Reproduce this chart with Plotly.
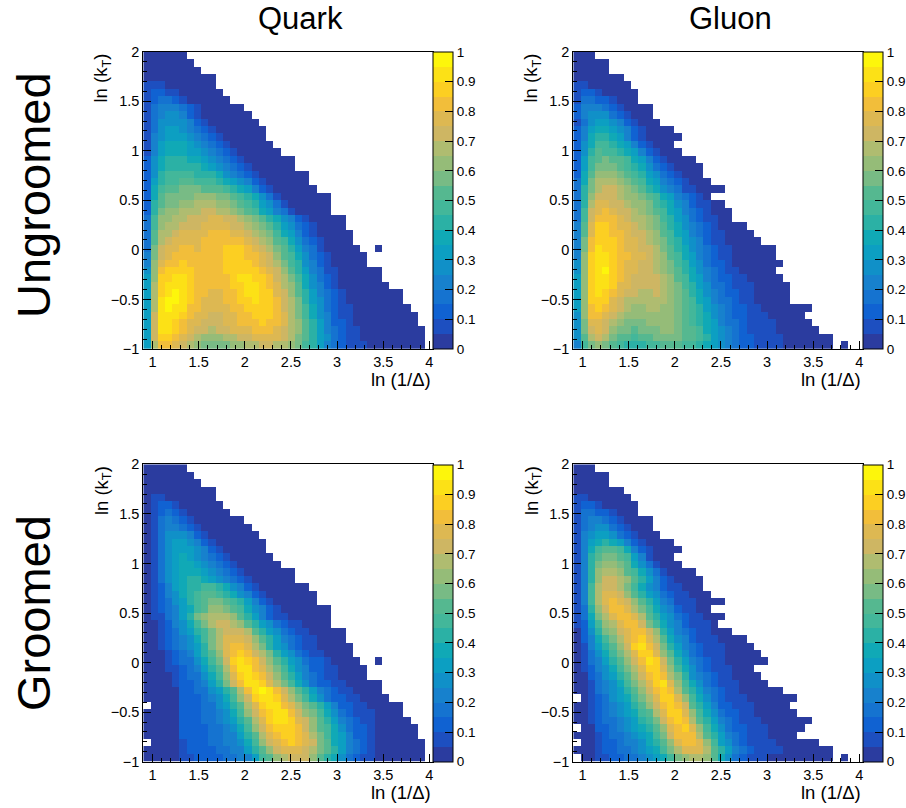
import numpy as np
import plotly.graph_objects as go

# Cell levels: one character per cell, 0-9 then a-j = 20 colour bands, '.' = empty.
quark_ungroomed = [
"000000","0000000","00000000","0000000000","1110000000","12211000000","123321000000","13444321000000",
"134554210000000","1355554210000000","13566543210000000","14566654321000000","146777654321000000",
"1467776654321000000","257888776543210000000","257888887654321000000","25899998887543210000000",
"26899aa9998765421000000","279aabbbaaa9876421000000","27abbbbcccbba9875310000000","28abbccdddccba986531000000",
"28bccdddeeddcba97643100000","39ccddeeeffeedcba87542100000","39cddeeeffffeedcba8653210000",
"3addeffffgggffedcb97642100000","3adeffffggggggfedca9753210000","3beffggfggghhhgfedba8643100000..0",
"4befggggggghhhggfeca97532100000","4cfgghggggghhhhgfedb98542100000","5cghhhhgggghhhhhgfeca864311000000",
"6chhiihggggghiihhgedb975321000000","6dhiiihggggghhiihgfdca754210000000","6dhijihggffgghiihhfeca86432100000000",
"6dijjihgfffgghhihhgedb86532100000000","6dijiiggffffgghhhhgedb975321100000000",
"6eiiihgffeeffgghhhgfdb9754211000000000","6eiihgffeeeffggghggfdca864221000000000",
"6eiihgfeedeefffgggfedca8643211000000000","6ehhgfedcccddeeffffedba8653211000000000",
"6dggfedcbbbbccddeeddcb98643211100000000",
]
gluon_ungroomed = [
"000","00000","00000","0000000","11000000","122100000","133221000","24443210000","24555321000",
"135665421000","24677654210000","247887642100000","25799876421000","258a99876421000","269abaa9764210000",
"269bbba98753210000","27acccba9865321000","37bdddcba9764321000","38bdeedcba87543110000","38ceeedccba97643210",
"38dffeedccb9875421100","39efgfeedcba9764321000","39egggfeddcb9865321100","4afhhgffedcba87543210000",
"4afhhggfeedca976432110000","4bghhhgffedcb9865421100000","4bgihhgffeedba87543211000000",
"4chiihggffedca97643211000000","5chiihgffeedcb986532210000000","5chijhgffeedcba8754321100000",
"6chiihgfeeeedca97643221100000","6chiihffeeeedcb986533211100000","6chihgfeeddedcba87543221100000",
"6chhhfeddddddcba97643321100000","6cghgfedccddccba98654322110000000","5cggfedcccccccba9875432211100000",
"5bffedcbbbccccba98764332111100000","5befecbbabbbccbaa97654321111000000",
"5adedbaa9aabbbbaa9865432211110000000","49bcba988899aaa998765432211110000000.0",
]
quark_groomed = [
"000000","0000000","00000000","0000000000","0110000000","01221000000","012321000000","01343210000000",
"013443210000000","0135554210000000","01356654210000000","01356665421000000","013567654321000000",
"0135677654321000000","013567776543210000000","013567887654321000000","01246788998754210000000",
"01245789aa98754210000000","01235689abba986421000000","01234679accba9754210000000",
"0113468bcdddca864211000000","00124579bdeedca86532110000","001235689bdeeeda865321100000",
"001234579bdfffeca86432110000","001234568bdfggfdb865321100000","000123468acfghgedb86532110000",
"0001233579behihgeca86532210000..0","0001123468adgiigfdb975422110000","00001233579cfhihgeca86432110000",
"00001223468begiihfdb9753221100000","000002233568adgijigeca86432110000","0000022234579cehiihfdb975322110000",
".000022233568adfhiigfdba864221100000",
"00000222334579ceghiigecb975321110000",
"00000222334568adfhiihfeca86432110000 0".replace(" ",""),
"00000222233457 9ceghhhgeca97532 21000000".replace(" ",""),
"00000222233446 8adfghhgfdb97642 21000000".replace(" ",""),
".0000122233445 79cefghgfeba7643 210000000".replace(" ",""),
"00000122223344 68acefffedba8643 210000000".replace(" ",""),
"00000112222334 469acdeeeca87532 110000000".replace(" ",""),
]
gluon_groomed = [
"000","00000","00000","0000000","11000000","122100000","133221000","13443210000","13455321000",
"145665321000","14678764210000","1479aa974210000","148abba9641000","148bccba7531000",
"148cddca975310000","148ceedca864210000","149deedb9754211000","149dffeca8653211000","149dfgfeca86431110000",
"138ceggfdb975421100","137bdfggfda8653211000","1269cdfggeb975421110","0258bcefggec8643211000",
"02479bdfghfda75421110000","01468acehigeb864321110000","013579bdfhhfca753211100000",
"013468acegiheb8643211000000","0124579bdfhhfc97532111000","0023568aceghgdb85432110000",
"00134579bdfhifc975321110000","00134568aceghgda8643211000000",".01235679bdfhhfc975321110000000",
"001234568aceghgea8642211100000","0012345679adfhhfc97532211000000","00123345689beghgda864321110000000",
".0022345678acfghfc97532211100000","000123345679begggda864321110000",".00122344578acfggfc965321111000000",
"0001223345679bdfffda8643211110000000",".0011223345679bcddca7532111000000000.0",
]

x_tick_labels = ["1", "1.5", "2", "2.5", "3", "3.5", "4"]
x_tick_values = [1, 1.5, 2, 2.5, 3, 3.5, 4]
y_tick_labels = ["−1", "−0.5", "0", "0.5", "1", "1.5", "2"]
y_tick_values = [-1, -0.5, 0, 0.5, 1, 1.5, 2]
bar_ticks = [0, .1, .2, .3, .4, .5, .6, .7, .8, .9, 1]

band_colors = ["#2B3C9F", "#1D4FC0", "#1062D2", "#1573D0", "#1781CD", "#1090C8", "#0C9FC2", "#10A9B6",
               "#2BB1A5", "#43B79A", "#55B890", "#78BB85", "#95BC78", "#AFBC70", "#CEB663", "#DDB852",
               "#F2BE3A", "#FCCF22", "#FCE116", "#FDF60B"]

X_MIN, X_MAX = 0.9, 4.036
Y_MIN, Y_MAX = -1, 2
NCOL, NROW = 40, 40
LEVELS = "0123456789abcdefghij"
W, H = 906, 808

def decode(rows):
    z = np.full((NROW, NCOL), np.nan)
    for j, row in enumerate(rows):
        for i, ch in enumerate(row[:NCOL]):
            if ch != ".":
                z[j, i] = (LEVELS.index(ch) + 0.5) / 20
    return z

x_cells = X_MIN + (np.arange(NCOL) + 0.5) * (X_MAX - X_MIN) / NCOL
y_cells = Y_MAX - (np.arange(NROW) + 0.5) * (Y_MAX - Y_MIN) / NROW

scale = []
for k, c in enumerate(band_colors):
    scale += [[k / 20, c], [(k + 1) / 20, c]]

panels = [
    (quark_ungroomed, 143.3, 51.7, 349.0),
    (gluon_ungroomed, 573.3, 51.7, 349.0),
    (quark_groomed, 143.3, 464.3, 761.7),
    (gluon_groomed, 573.3, 464.3, 761.7),
]
PW = 289.4
fig = go.Figure()
font = "Liberation Sans, Arial, sans-serif"
ann = []
for n, (rows, left, top, bottom) in enumerate(panels, start=1):
    sfx = "" if n == 1 else str(n)
    fig.add_trace(go.Heatmap(
        z=decode(rows), x=x_cells, y=y_cells, zmin=0, zmax=1, colorscale=scale,
        xaxis=f"x{sfx}", yaxis=f"y{sfx}", hoverongaps=False,
        colorbar=dict(
            x=(left + PW + 0.6) / W, xanchor="left", xpad=0, ypad=0,
            y=1 - bottom / H, yanchor="bottom", lenmode="pixels", len=bottom - top,
            thicknessmode="pixels", thickness=20, outlinecolor="black", outlinewidth=1,
            tickvals=bar_ticks, ticktext=[f"{t:g}" for t in bar_ticks], ticks="inside", ticklen=8,
            tickcolor="black", tickwidth=1, tickfont=dict(family=font, size=13.5, color="black"),
        ),
    ))
    axis_common = dict(showgrid=False, zeroline=False, showline=True, linecolor="black", linewidth=1,
                       mirror=True, ticks="inside", ticklen=8, tickcolor="black", tickwidth=1,
                       tickfont=dict(family=font, size=14.5, color="black"),
                       minor=dict(ticks="inside", ticklen=4, tickcolor="black", tickwidth=1, dtick=0.1, showgrid=False))
    fig.update_layout({
        f"xaxis{sfx}": dict(domain=[left / W, (left + PW) / W], range=[X_MIN, X_MAX], anchor=f"y{sfx}",
                            tickvals=x_tick_values, ticktext=x_tick_labels, **axis_common),
        f"yaxis{sfx}": dict(domain=[1 - bottom / H, 1 - top / H], range=[Y_MIN, Y_MAX], anchor=f"x{sfx}",
                            tickvals=y_tick_values, ticktext=y_tick_labels, **axis_common),
    })
    ann.append(dict(x=(left + PW) / W, y=1 - (bottom + 18) / H, text="ln (1/Δ)", xanchor="right", yanchor="top",
                    font=dict(family=font, size=18.5, color="black")))
    ann.append(dict(x=(left - 41) / W, y=1 - top / H, text="ln (k<sub>T</sub>)", xanchor="center", yanchor="top",
                    textangle=-90, font=dict(family=font, size=18.5, color="black")))

big = dict(xanchor="center", yanchor="middle")
ann += [
    dict(x=300 / W, y=1 - 18 / H, text="Quark", font=dict(family=font, size=31, color="black"), **big),
    dict(x=730 / W, y=1 - 18 / H, text="Gluon", font=dict(family=font, size=31, color="black"), **big),
    dict(x=33 / W, y=1 - 195 / H, text="Ungroomed", textangle=-90, font=dict(family=font, size=47, color="black"), **big),
    dict(x=33 / W, y=1 - 613 / H, text="Groomed", textangle=-90, font=dict(family=font, size=47, color="black"), **big),
]
for a in ann:
    a.update(xref="paper", yref="paper", showarrow=False)
fig.update_layout(width=W, height=H, margin=dict(l=0, r=0, t=0, b=0, autoexpand=False), paper_bgcolor="white",
                  plot_bgcolor="white", annotations=ann, showlegend=False)
fig.write_html("out.html", post_script="document.body.style.margin='0';", config={"displayModeBar": False})
